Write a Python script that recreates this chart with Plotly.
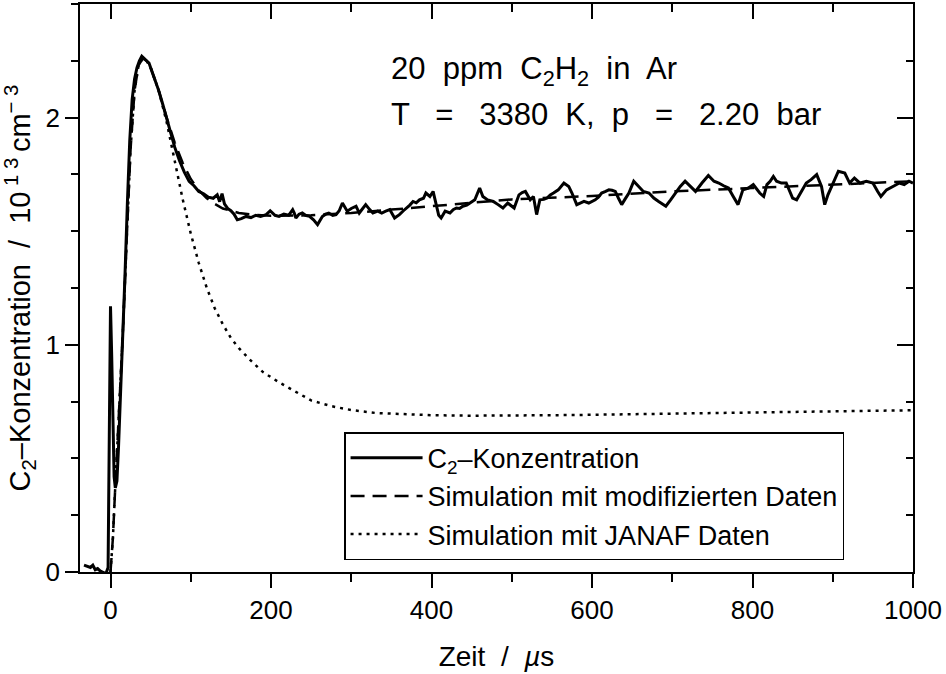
import plotly.graph_objects as go

# ---------------- data ----------------
t_c2 = [-33, -29, -25, -22, -19, -16, -13, -10, -7, -5, -3, -1.5, 0, 1.5, 3, 4.5, 6, 8, 10, 12,
        15, 18, 21, 24, 27, 30, 33, 36, 39, 42, 45, 48, 52, 56, 60, 65, 70, 75, 80, 86,
        92, 98, 104, 110, 116, 122, 128, 133, 136, 139, 142, 146, 150, 154, 158, 163, 169, 175, 181, 187,
        194, 199, 205, 210, 216, 222, 227, 229, 231, 235, 239, 243, 248, 253, 258, 264, 268, 272, 277, 281,
        285, 289, 295, 300, 306, 310, 314, 318, 323, 327, 333, 338, 343, 348, 354, 360, 365, 369, 373, 377,
        381, 385, 390, 393, 398, 402, 406, 409, 412, 417, 423, 427, 431, 435, 439, 444, 448, 454, 460, 464,
        470, 477, 483, 489, 495, 503, 509, 513, 517, 523, 527, 531, 535, 540, 544, 548, 552, 558, 565, 571,
        575, 581, 586, 590, 596, 600, 604, 608, 612, 617, 621, 625, 629, 633, 637, 641, 646, 652, 658, 664,
        671, 677, 683, 688, 692, 698, 704, 710, 716, 723, 729, 737, 745, 752, 758, 764, 770, 776, 782, 788,
        795, 801, 809, 814, 818, 822, 826, 830, 836, 842, 846, 850, 855, 861, 867, 873, 880, 886, 890, 894,
        900, 907, 915, 921, 927, 934, 942, 950, 956, 960, 967, 975, 983, 989, 995, 1000]
c2 = [0.03, 0.025, 0.02, 0.03, 0.01, 0.015, 0.005, 0.0, -0.005, 0.0, 0.02, 0.6, 1.17, 0.95, 0.6, 0.42, 0.37, 0.40, 0.55, 0.72,
      1.0, 1.3, 1.62, 1.9, 2.08, 2.17, 2.22, 2.25, 2.27, 2.26, 2.25, 2.24, 2.2, 2.16, 2.12, 2.06, 2.0, 1.93, 1.87, 1.81,
      1.76, 1.72, 1.70, 1.675, 1.665, 1.65, 1.645, 1.66, 1.63, 1.665, 1.62, 1.60, 1.59, 1.575, 1.55, 1.555, 1.565, 1.56, 1.57, 1.565,
      1.573, 1.59, 1.57, 1.565, 1.575, 1.57, 1.595, 1.58, 1.558, 1.575, 1.58, 1.57, 1.565, 1.55, 1.529, 1.565, 1.575, 1.58, 1.57, 1.573,
      1.59, 1.624, 1.588, 1.60, 1.61, 1.58, 1.60, 1.617, 1.595, 1.58, 1.588, 1.58, 1.588, 1.595, 1.558, 1.573, 1.59, 1.602, 1.615, 1.631,
      1.625, 1.638, 1.645, 1.668, 1.653, 1.675, 1.61, 1.57, 1.558, 1.588, 1.58, 1.595, 1.602, 1.60, 1.61, 1.615, 1.624, 1.638, 1.69, 1.653,
      1.638, 1.631, 1.617, 1.602, 1.624, 1.602, 1.66, 1.67, 1.675, 1.638, 1.653, 1.573, 1.638, 1.64, 1.646, 1.66, 1.668, 1.682, 1.712, 1.697,
      1.668, 1.617, 1.625, 1.631, 1.624, 1.63, 1.638, 1.65, 1.668, 1.675, 1.682, 1.68, 1.675, 1.645, 1.617, 1.64, 1.668, 1.72, 1.697, 1.675,
      1.668, 1.646, 1.631, 1.62, 1.61, 1.638, 1.668, 1.697, 1.72, 1.697, 1.675, 1.712, 1.745, 1.72, 1.712, 1.70, 1.69, 1.653, 1.617, 1.682,
      1.69, 1.705, 1.668, 1.653, 1.705, 1.72, 1.741, 1.72, 1.712, 1.712, 1.682, 1.646, 1.638, 1.675, 1.712, 1.727, 1.749, 1.697, 1.617, 1.66,
      1.712, 1.764, 1.756, 1.712, 1.734, 1.712, 1.72, 1.712, 1.675, 1.653, 1.682, 1.697, 1.712, 1.705, 1.72, 1.712]

t_mod = [0, 3, 6, 10, 15, 20, 25, 30, 35, 40, 45, 50, 55, 60, 70, 80, 90, 100, 110, 120, 130, 140, 150, 160,
         180, 200, 250, 300, 350, 400, 450, 500, 600, 700, 800, 900, 1000]
sim_mod = [0, 0.15, 0.38, 0.66, 1.02, 1.45, 1.86, 2.12, 2.23, 2.26, 2.25, 2.22, 2.17, 2.12, 2.0, 1.89, 1.80, 1.73, 1.68, 1.645, 1.62, 1.60, 1.59, 1.58,
           1.572, 1.568, 1.57, 1.58, 1.595, 1.61, 1.625, 1.64, 1.655, 1.675, 1.69, 1.705, 1.72]

t_janaf = [0, 3, 6, 10, 15, 20, 25, 30, 35, 40, 45, 50, 55, 60, 70, 80, 90, 100, 110, 120, 130, 140, 150, 160,
           175, 190, 210, 230, 250, 275, 300, 330, 360, 400, 450, 500, 550, 600, 700, 800, 900, 1000]
sim_janaf = [0, 0.15, 0.38, 0.66, 1.02, 1.45, 1.86, 2.12, 2.23, 2.26, 2.25, 2.22, 2.17, 2.12, 1.98, 1.81, 1.64, 1.49, 1.36, 1.25, 1.16, 1.09, 1.03, 0.985,
             0.93, 0.88, 0.835, 0.795, 0.755, 0.73, 0.713, 0.70, 0.695, 0.69, 0.688, 0.688, 0.69, 0.692, 0.697, 0.702, 0.707, 0.712]

x_range = [-38, 1000]
y_range = [0, 2.5]

FONT = "Liberation Sans"

fig = go.Figure()
fig.add_trace(go.Scatter(x=t_c2, y=c2, mode="lines", name="C<sub>2</sub>–Konzentration",
                         line=dict(color="black", width=3)))
fig.add_trace(go.Scatter(x=t_mod, y=sim_mod, mode="lines", name="Simulation mit modifizierten Daten",
                         line=dict(color="black", width=2.5, dash="14px,8px")))
fig.add_trace(go.Scatter(x=t_janaf, y=sim_janaf, mode="lines", name="Simulation mit JANAF Daten",
                         line=dict(color="black", width=2.5, dash="3px,5px")))
# empty trace to carry the mirrored axes
fig.add_trace(go.Scatter(x=[], y=[], xaxis="x2", yaxis="y2", showlegend=False))

axis_common = dict(showline=True, linecolor="black", linewidth=1.5, showgrid=False, zeroline=False,
                   tickcolor="black", tickwidth=1.5)

fig.update_layout(
    width=946, height=674,
    margin=dict(l=80, r=31, t=4, b=102, pad=0),
    paper_bgcolor="white", plot_bgcolor="white",
    font=dict(family=FONT, color="black", size=26),
    xaxis=dict(range=x_range, ticks="outside", ticklen=14, tick0=0, dtick=200,
               minor=dict(ticks="outside", ticklen=8, dtick=100, tick0=0, tickcolor="black", tickwidth=1.5),
               tickfont=dict(size=26),
               title=dict(text="Zeit  /  <i>µ</i>s", font=dict(size=28), standoff=22),
               **axis_common),
    yaxis=dict(range=y_range, ticks="outside", ticklen=13, tick0=0, dtick=1,
               minor=dict(ticks="outside", ticklen=7, dtick=0.25, tick0=0, tickcolor="black", tickwidth=1.5),
               tickfont=dict(size=26),
               title=dict(text="C<sub>2</sub>–Konzentration  /  10<sup> 1 3 </sup>cm<sup>− 3</sup>",
                          font=dict(size=29), standoff=10),
               **axis_common),
    xaxis2=dict(range=x_range, overlaying="x", side="top", ticks="inside", ticklen=15, tick0=0, dtick=200,
                minor=dict(ticks="inside", ticklen=8, dtick=100, tick0=0, tickcolor="black", tickwidth=1.5),
                showticklabels=False, **axis_common),
    yaxis2=dict(range=y_range, overlaying="y", side="right", ticks="inside", ticklen=16, tick0=0, dtick=1,
                minor=dict(ticks="inside", ticklen=7, dtick=0.25, tick0=0, tickcolor="black", tickwidth=1.5),
                showticklabels=False, **axis_common),
    legend=dict(x=0.317, y=0.246, xanchor="left", yanchor="top",
                bordercolor="black", borderwidth=1.5, bgcolor="white",
                font=dict(size=27), tracegroupgap=0, itemwidth=72),
    showlegend=True,
)

fig.add_annotation(x=347, y=2.205, xref="x", yref="y", xanchor="left", yanchor="middle", showarrow=False,
                   text="20  ppm  C<sub>2</sub>H<sub>2</sub>  in  Ar", font=dict(size=31))
fig.add_annotation(x=347, y=2.012, xref="x", yref="y", xanchor="left", yanchor="middle", showarrow=False,
                   text="T   =   3380  K,  p   =   2.20  bar", font=dict(size=31))

fig.write_html("out.html")
